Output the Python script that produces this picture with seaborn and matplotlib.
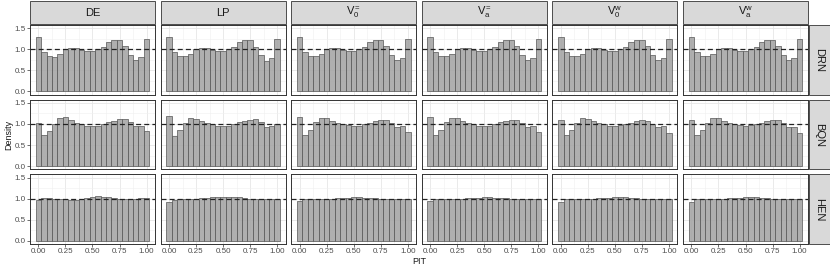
import pandas as pd
import matplotlib
matplotlib.use("Agg")
import matplotlib.pyplot as plt
from matplotlib.patches import Rectangle
from matplotlib.ticker import MultipleLocator
import seaborn as sns

# bin centres of the PIT histogram (binwidth 0.05)
pit_bins = [0.00, 0.05, 0.10, 0.15, 0.20, 0.25, 0.30, 0.35, 0.40, 0.45, 0.50,
            0.55, 0.60, 0.65, 0.70, 0.75, 0.80, 0.85, 0.90, 0.95, 1.00]

methods = ["DE", "LP", "V0=", "Va=", "V0w", "Vaw"]
method_labels = ["DE", "LP", r"$\mathrm{V}_0^{=}$", r"$\mathrm{V}_a^{=}$",
                 r"$\mathrm{V}_0^{w}$", r"$\mathrm{V}_a^{w}$"]
models = ["DRN", "BQN", "HEN"]

# densities
drn_de = [1.29, 0.94, 0.84, 0.82, 0.89, 1.01, 1.03, 1.02, 0.99, 0.95, 0.95,
          1.01, 1.05, 1.16, 1.22, 1.22, 1.07, 0.87, 0.74, 0.81, 1.24]
drn_lp = [1.28, 0.94, 0.84, 0.83, 0.89, 1.00, 1.03, 1.02, 0.99, 0.95, 0.95,
          1.00, 1.06, 1.16, 1.22, 1.21, 1.06, 0.87, 0.73, 0.80, 1.24]
drn_v0e = [1.29, 0.94, 0.84, 0.83, 0.89, 1.00, 1.03, 1.03, 0.99, 0.95, 0.95,
           1.00, 1.06, 1.16, 1.22, 1.21, 1.07, 0.87, 0.74, 0.80, 1.24]
drn_vae = [1.29, 0.94, 0.84, 0.83, 0.89, 1.00, 1.03, 1.03, 0.99, 0.95, 0.95,
           1.00, 1.06, 1.16, 1.22, 1.21, 1.07, 0.87, 0.74, 0.80, 1.24]
drn_v0w = [1.29, 0.94, 0.84, 0.83, 0.89, 1.00, 1.03, 1.03, 0.99, 0.95, 0.95,
           1.00, 1.06, 1.16, 1.22, 1.21, 1.07, 0.87, 0.74, 0.80, 1.24]
drn_vaw = [1.29, 0.94, 0.84, 0.83, 0.89, 1.00, 1.03, 1.03, 0.99, 0.95, 0.95,
           1.00, 1.06, 1.16, 1.22, 1.21, 1.07, 0.87, 0.74, 0.80, 1.24]

bqn_de = [1.03, 0.73, 0.84, 1.00, 1.14, 1.16, 1.09, 1.03, 1.00, 0.96, 0.95,
          0.96, 1.00, 1.05, 1.08, 1.12, 1.11, 1.05, 0.95, 0.95, 0.84]
bqn_lp = [1.19, 0.71, 0.86, 1.03, 1.13, 1.12, 1.08, 1.02, 1.01, 0.96, 0.94,
          0.96, 1.00, 1.04, 1.07, 1.10, 1.11, 1.04, 0.93, 0.95, 1.00]
bqn_v0e = [1.16, 0.74, 0.86, 1.05, 1.15, 1.13, 1.08, 1.03, 1.01, 0.97, 0.95,
           0.95, 0.99, 1.03, 1.07, 1.10, 1.09, 1.02, 0.92, 0.95, 0.82]
bqn_vae = [1.16, 0.74, 0.86, 1.05, 1.15, 1.14, 1.08, 1.02, 1.01, 0.96, 0.95,
           0.96, 1.00, 1.04, 1.08, 1.10, 1.10, 1.02, 0.92, 0.95, 0.82]
bqn_v0w = [1.10, 0.74, 0.86, 1.03, 1.14, 1.12, 1.06, 1.02, 1.00, 0.96, 0.95,
           0.97, 1.00, 1.02, 1.06, 1.09, 1.08, 1.00, 0.92, 0.95, 0.79]
bqn_vaw = [1.09, 0.74, 0.85, 1.02, 1.13, 1.13, 1.07, 1.02, 1.00, 0.97, 0.96,
           0.98, 1.00, 1.03, 1.07, 1.09, 1.09, 1.02, 0.92, 0.93, 0.78]

hen_de = [0.97, 1.01, 1.01, 1.00, 0.99, 1.00, 0.96, 0.98, 1.00, 1.01, 1.04,
          1.06, 1.03, 1.03, 1.01, 1.00, 0.99, 1.00, 0.99, 1.01, 1.01]
hen_lp = [0.92, 0.98, 0.99, 1.00, 1.00, 1.00, 1.01, 1.02, 1.03, 1.04, 1.05,
          1.05, 1.04, 1.03, 1.01, 1.00, 1.00, 1.00, 0.99, 1.00, 1.00]
hen_v0e = [0.94, 0.99, 1.00, 1.00, 1.00, 1.00, 1.00, 1.01, 1.01, 1.02, 1.03,
           1.03, 1.02, 1.01, 1.01, 1.00, 1.00, 1.00, 0.99, 1.00, 1.00]
hen_vae = [0.94, 0.99, 1.00, 1.00, 1.00, 1.00, 1.00, 1.01, 1.01, 1.02, 1.03,
           1.03, 1.02, 1.01, 1.01, 1.00, 1.00, 1.00, 0.99, 1.00, 1.00]
hen_v0w = [0.93, 0.99, 1.00, 1.00, 1.00, 1.00, 1.00, 1.01, 1.02, 1.02, 1.03,
           1.04, 1.03, 1.02, 1.01, 1.00, 1.00, 1.00, 0.99, 1.00, 1.00]
hen_vaw = [0.93, 0.99, 1.00, 1.00, 1.00, 1.00, 1.00, 1.01, 1.02, 1.02, 1.03,
           1.04, 1.03, 1.02, 1.01, 1.00, 1.00, 1.00, 0.99, 1.00, 1.00]

series = {
    "DRN": [drn_de, drn_lp, drn_v0e, drn_vae, drn_v0w, drn_vaw],
    "BQN": [bqn_de, bqn_lp, bqn_v0e, bqn_vae, bqn_v0w, bqn_vaw],
    "HEN": [hen_de, hen_lp, hen_v0e, hen_vae, hen_v0w, hen_vaw],
}

rows = []
for model in models:
    for method, vals in zip(methods, series[model]):
        for p, d in zip(pit_bins, vals):
            rows.append({"model": model, "method": method, "pit": p, "density": d})
df = pd.DataFrame(rows)

sns.set_theme(style="white")
plt.rcParams["font.family"] = ["Liberation Sans", "DejaVu Sans"]
plt.rcParams["mathtext.fontset"] = "custom"
plt.rcParams["mathtext.rm"] = "Liberation Sans"
plt.rcParams["mathtext.it"] = "Liberation Sans"

g = sns.FacetGrid(df, row="model", col="method", row_order=models,
                  col_order=methods, sharex=True, sharey=True,
                  height=1, aspect=1.5, despine=False)
# one bin per centre, width 0.05
g.map_dataframe(sns.histplot, x="pit", weights="density", stat="count",
                bins=len(pit_bins), binrange=(-0.025, 1.025),
                color="#a6a6a6", alpha=0.9, edgecolor="#555555", linewidth=0.5)

fig = g.figure
W, H = 830, 269
fig.set_size_inches(W / 100, H / 100)
fig.subplots_adjust(left=30 / W, right=808 / W, top=1 - 25 / H,
                    bottom=1 - 244 / H, wspace=0.045, hspace=0.075)
g.set_titles("")
g.set_axis_labels("", "")

for i, model in enumerate(models):
    for j, method in enumerate(methods):
        ax = g.axes[i, j]
        ax.set_xlim(-0.0775, 1.0775)
        ax.set_ylim(-0.075, 1.575)
        ax.axhline(1, color="#222222", ls=(0, (4, 2.5)), lw=0.9, zorder=5)
        ax.xaxis.set_major_locator(MultipleLocator(0.25))
        ax.xaxis.set_minor_locator(MultipleLocator(0.125))
        ax.yaxis.set_major_locator(MultipleLocator(0.5))
        ax.yaxis.set_minor_locator(MultipleLocator(0.25))
        ax.grid(which="major", color="#e6e6e6", lw=0.6)
        ax.grid(which="minor", color="#f0f0f0", lw=0.4)
        ax.set_axisbelow(True)
        for s in ax.spines.values():
            s.set_color("#333333")
            s.set_linewidth(0.7)
        ax.tick_params(which="major", length=2, width=0.5, color="#333333",
                       labelsize=5.8, labelcolor="#4d4d4d", pad=1,
                       bottom=(i == 2), left=(j == 0))
        ax.tick_params(which="minor", length=0)
        ax.set_xticks([0, 0.25, 0.5, 0.75, 1.0])
        ax.set_xticklabels(["0.00", "0.25", "0.50", "0.75", "1.00"])
        ax.set_yticks([0, 0.5, 1.0, 1.5])
        ax.set_yticklabels(["0.0", "0.5", "1.0", "1.5"])
        ax.set_xlabel("")
        ax.set_ylabel("")

        pos = ax.get_position()
        pw, ph = pos.width * W, pos.height * H
        if i == 0:
            sh = 23 / ph
            ax.add_patch(Rectangle((0, 1 + 1 / ph), 1, sh, transform=ax.transAxes,
                                   clip_on=False, facecolor="#d9d9d9",
                                   edgecolor="#333333", lw=0.6))
            ax.text(0.5, 1 + 1 / ph + sh / 2, method_labels[j], transform=ax.transAxes,
                    ha="center", va="center", fontsize=8, color="#1a1a1a")
        if j == len(methods) - 1:
            sw = 20.5 / pw
            ax.add_patch(Rectangle((1 + 1 / pw, 0), sw, 1, transform=ax.transAxes,
                                   clip_on=False, facecolor="#d9d9d9",
                                   edgecolor="#333333", lw=0.6))
            ax.text(1 + 1 / pw + sw / 2, 0.5, model, transform=ax.transAxes,
                    ha="center", va="center", rotation=-90, fontsize=8,
                    color="#1a1a1a")

fig.text((30 + 808) / 2 / W, 1 - 262 / H, "PIT", ha="center", va="center",
         fontsize=6.5, color="#1a1a1a")
fig.text(9 / W, 1 - (25 + 244) / 2 / H, "Density", ha="center", va="center",
         rotation=90, fontsize=6.5, color="#1a1a1a")

fig.savefig("out.png", dpi=100)
